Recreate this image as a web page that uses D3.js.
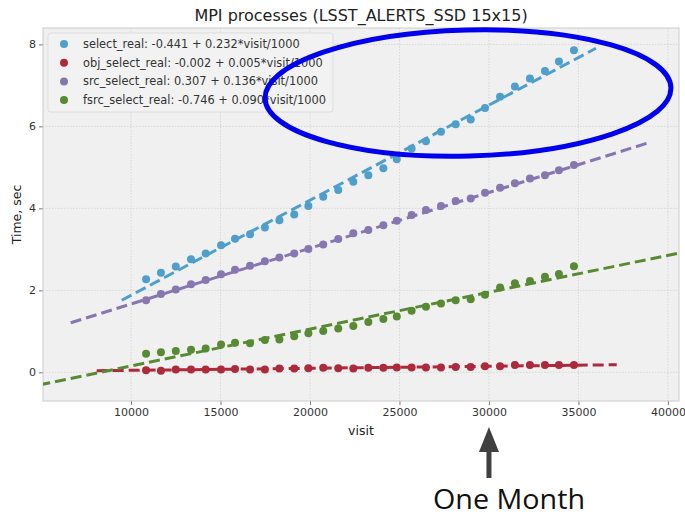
<!DOCTYPE html>
<html>
<head>
<meta charset="utf-8">
<script src="https://cdn.jsdelivr.net/npm/d3@7"></script>
<style>
  body { margin: 0; background: #ffffff; }
  text { font-family: "DejaVu Sans", sans-serif; }
</style>
</head>
<body>
<div id="chart"></div>
<script>
// visit numbers of the measurements
const visits = [10840, 11670, 12500, 13350, 14170, 15030, 15810, 16650, 17480, 18290,
                19120, 19910, 20740, 21580, 22420, 23260, 24100, 24850, 25680, 26480,
                27320, 28140, 28980, 29780, 30620, 31450, 32290, 33130, 33910, 34750];

const selectReal = [2.27, 2.43, 2.58, 2.76, 2.90, 3.10, 3.26, 3.37, 3.53, 3.71,
                    3.85, 4.06, 4.28, 4.45, 4.65, 4.81, 4.98, 5.20, 5.46, 5.64,
                    5.87, 6.05, 6.17, 6.45, 6.72, 6.97, 7.17, 7.35, 7.58, 7.86];
const objSelectReal = [0.05, 0.04, 0.07, 0.07, 0.07, 0.07, 0.08, 0.07, 0.07, 0.09,
                       0.09, 0.10, 0.11, 0.10, 0.09, 0.11, 0.11, 0.12, 0.12, 0.12,
                       0.12, 0.13, 0.13, 0.15, 0.15, 0.18, 0.18, 0.18, 0.18, 0.18];
const srcSelectReal = [1.76, 1.91, 2.02, 2.15, 2.25, 2.39, 2.50, 2.60, 2.71, 2.80,
                       2.90, 3.01, 3.12, 3.25, 3.39, 3.47, 3.59, 3.70, 3.84, 3.96,
                       4.06, 4.18, 4.24, 4.38, 4.50, 4.61, 4.73, 4.81, 4.93, 5.06];
const fsrcSelectReal = [0.45, 0.49, 0.52, 0.55, 0.58, 0.68, 0.72, 0.71, 0.79, 0.80,
                        0.88, 0.95, 1.01, 1.07, 1.13, 1.23, 1.30, 1.36, 1.50, 1.60,
                        1.68, 1.76, 1.78, 1.89, 2.07, 2.17, 2.23, 2.33, 2.40, 2.59];

const seriesNames = ["select_real", "obj_select_real", "src_select_real", "fsrc_select_real"];
const fitIntercepts = [-0.441, -0.002, 0.307, -0.746];
const fitSlopes = [0.232, 0.005, 0.136, 0.090];
// visit range over which each fit line is drawn
const fitRanges = [[9480, 35980], [8080, 37140], [6630, 38960], [4000, 42000]];
const colours = ["#4f9fcb", "#ad2a3a", "#8777b1", "#578a32"];

const xTicks = [10000, 15000, 20000, 25000, 30000, 35000, 40000];
const yTicks = [0, 2, 4, 6, 8];

const width = 685, height = 517;
const margin = { left: 43, top: 28, right: 6, bottom: 116 };
const plotW = width - margin.left - margin.right;
const plotH = height - margin.top - margin.bottom;

const allValues = [selectReal, objSelectReal, srcSelectReal, fsrcSelectReal];

const svg = d3.select("#chart")
  .append("svg")
  .attr("width", width)
  .attr("height", height);

const x = d3.scaleLinear().domain([5080, 40620]).range([0, plotW]);
const y = d3.scaleLinear().domain([-0.70, 8.40]).range([plotH, 0]);

svg.append("defs").append("clipPath").attr("id", "plotclip")
  .append("rect").attr("width", plotW).attr("height", plotH);

const g = svg.append("g").attr("transform", `translate(${margin.left},${margin.top})`);

g.append("rect")
  .attr("width", plotW)
  .attr("height", plotH)
  .attr("fill", "#f0f0f0");

// grid
g.selectAll(".xgrid").data(xTicks).enter().append("line")
  .attr("x1", d => x(d)).attr("x2", d => x(d))
  .attr("y1", 0).attr("y2", plotH)
  .attr("stroke", "#d6d6d6").attr("stroke-dasharray", "1.5,1.5");
g.selectAll(".ygrid").data(yTicks).enter().append("line")
  .attr("y1", d => y(d)).attr("y2", d => y(d))
  .attr("x1", 0).attr("x2", plotW)
  .attr("stroke", "#d6d6d6").attr("stroke-dasharray", "1.5,1.5");

// axes
const xAxis = g.append("g")
  .attr("transform", `translate(0,${plotH})`)
  .call(d3.axisBottom(x).tickValues(xTicks).tickFormat(d3.format("d")).tickSize(4).tickPadding(3));
const yAxis = g.append("g")
  .call(d3.axisLeft(y).tickValues(yTicks).tickSize(4).tickPadding(3));
[xAxis, yAxis].forEach(a => {
  a.select(".domain").remove();
  a.selectAll(".tick line").attr("stroke", "#777");
  a.selectAll(".tick text").attr("fill", "#333").style("font-size", "11px");
});

g.append("rect")
  .attr("width", plotW)
  .attr("height", plotH)
  .attr("fill", "none")
  .attr("stroke", "#cccccc");

// fit lines
const marks = g.append("g").attr("clip-path", "url(#plotclip)");
seriesNames.forEach((name, i) => {
  const ends = fitRanges[i].map(v => [v, fitIntercepts[i] + fitSlopes[i] * v / 1000]);
  marks.append("path")
    .datum(ends)
    .attr("d", d3.line().x(d => x(d[0])).y(d => y(d[1])))
    .attr("fill", "none")
    .attr("stroke", colours[i])
    .attr("stroke-width", 3)
    .attr("stroke-dasharray", "11,5");
});

// measured points
allValues.forEach((vals, i) => {
  marks.selectAll(".pt" + i)
    .data(vals)
    .enter()
    .append("circle")
    .attr("cx", (d, k) => x(visits[k]))
    .attr("cy", d => y(d))
    .attr("r", 4)
    .attr("fill", colours[i]);
});

// legend
const legend = g.append("g").attr("transform", "translate(5,5)");
legend.append("rect")
  .attr("width", 285).attr("height", 79).attr("rx", 3)
  .attr("fill", "#f2f2f2").attr("stroke", "#dddddd");
seriesNames.forEach((name, i) => {
  const row = legend.append("g").attr("transform", `translate(0,${11 + i * 18.7})`);
  row.append("circle").attr("cx", 16).attr("cy", 0).attr("r", 4).attr("fill", colours[i]);
  const a = fitIntercepts[i].toFixed(3), b = fitSlopes[i].toFixed(3);
  row.append("text")
    .attr("x", 35).attr("y", 4)
    .attr("fill", "#333")
    .style("font-size", "11.4px")
    .text(`${name}: ${a} + ${b}*visit/1000`);
});

// titles
svg.append("text")
  .attr("x", margin.left + plotW / 2).attr("y", 21)
  .attr("text-anchor", "middle")
  .attr("fill", "#222")
  .style("font-size", "16px")
  .text("MPI processes (LSST_ALERTS_SSD 15x15)");
svg.append("text")
  .attr("x", margin.left + plotW / 2).attr("y", 435)
  .attr("text-anchor", "middle")
  .attr("fill", "#222")
  .style("font-size", "12.5px")
  .text("visit");
svg.append("text")
  .attr("transform", `translate(21,${margin.top + plotH / 2}) rotate(-90)`)
  .attr("text-anchor", "middle")
  .attr("fill", "#222")
  .style("font-size", "12.5px")
  .text("Time, sec");

// annotations: ellipse around the upper part and arrow at one month
svg.append("ellipse")
  .attr("cx", 468).attr("cy", 93)
  .attr("rx", 203).attr("ry", 63)
  .attr("transform", "rotate(-1.5,468,93)")
  .attr("fill", "none")
  .attr("stroke", "#0000ee")
  .attr("stroke-width", 5);

const ax = margin.left + x(30000);
svg.append("rect")
  .attr("x", ax - 2.5).attr("y", 450).attr("width", 5).attr("height", 28)
  .attr("fill", "#404040");
svg.append("path")
  .attr("d", `M${ax},427 L${ax + 10},452 L${ax - 10},452 Z`)
  .attr("fill", "#404040");
svg.append("text")
  .attr("x", 509).attr("y", 509)
  .attr("text-anchor", "middle")
  .attr("fill", "#111")
  .style("font-family", "'Open Sans', sans-serif")
  .style("font-size", "27px")
  .attr("textLength", 152)
  .attr("lengthAdjust", "spacingAndGlyphs")
  .text("One Month");
</script>
</body>
</html>
